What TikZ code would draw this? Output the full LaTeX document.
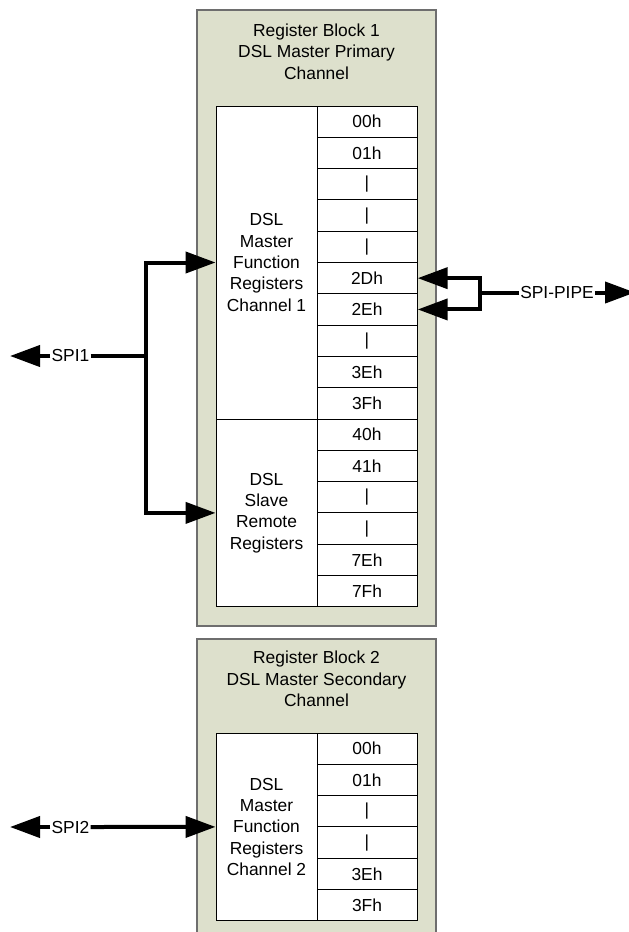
\documentclass[tikz,border=0pt]{standalone}
\usepackage{fontspec}
\setmainfont{Liberation Sans}
\usetikzlibrary{arrows.meta}
\definecolor{blockfill}{RGB}{221,224,204}
\definecolor{blockline}{RGB}{110,110,110}
\tikzset{
  block/.style={draw=blockline, fill=blockfill, line width=1.3pt},
  cell/.style={draw=black, line width=0.9pt, fill=white, minimum width=100.5pt, minimum height=31.3pt, inner sep=0pt, anchor=center},
  bigcell/.style={draw=black, line width=0.9pt, fill=white, minimum width=101pt, inner sep=0pt, align=center},
  hdr/.style={align=center, inner sep=0pt},
  lbl/.style={inner sep=1pt},
  conn/.style={line width=4pt, -{Triangle[length=30pt,width=21pt]}},
  wire/.style={line width=4pt}
}
\begin{document}
\begin{tikzpicture}[x=1pt,y=-1pt,font=\fontsize{17.4}{21.3}\selectfont]
\useasboundingbox (0,0) rectangle (629,932);
\begin{scope}
\clip (0,0) rectangle (629,932);
% blocks
\draw[block] (197,10) rectangle (436,626);
\draw[block] (197,639) rectangle (436,950);

% headers
\node[hdr] (h1) at (316.5,51.5) {Register Block 1\\DSL Master Primary\\Channel};
\node[hdr] (h2) at (316.5,679) {Register Block 2\\DSL Master Secondary\\Channel};

% table 1 right column
\foreach \t [count=\i from 0] in {00h,01h,|,|,|,2Dh,2Eh,|,3Eh,3Fh,40h,41h,|,|,7Eh,7Fh}{
  \node[cell] (a\i) at (367, 106+15.65+31.3*\i) {\t};
}
\node[bigcell, minimum height=313pt] (f1) at (266.5,262.5) {DSL\\Master\\Function\\Registers\\Channel 1};
\node[bigcell, minimum height=187.8pt] (s1) at (266.5,512.9) {DSL\\Slave\\Remote\\Registers};

% table 2
\foreach \t [count=\i from 0] in {00h,01h,|,|,3Eh,3Fh}{
  \node[cell] (b\i) at (367, 733+15.65+31.3*\i) {\t};
}
\node[bigcell, minimum height=187.8pt] (f2) at (266.5,826.9) {DSL\\Master\\Function\\Registers\\Channel 2};

% SPI1
\node[lbl] (spi1) at (70.5,356) {SPI1};
\coordinate (spi1tip) at (10,356);
\coordinate (j1) at (146,356);
\draw[conn] (spi1.west) -- (spi1tip);
\draw[wire] (spi1.east) -- (j1);
\draw[conn] (j1) -- (f1.west -| j1) -- (f1.west);
\draw[conn] (j1) -- (s1.west -| j1) -- (s1.west);

% SPI-PIPE
\node[lbl] (pipe) at (557,292.5) {SPI-PIPE};
\coordinate (j2) at (480,292.5);
\coordinate (pipetip) at (635,292.5);
\draw[conn] (pipe.east) -- (pipetip);
\draw[wire] (pipe.west) -- (j2);
\draw[conn] (j2) -- (a5.east -| j2) -- (a5.east);
\draw[conn] (j2) -- (a6.east -| j2) -- (a6.east);

% SPI2
\node[lbl] (spi2) at (70.5,827) {SPI2};
\coordinate (spi2tip) at (10,827);
\draw[conn] (spi2.west) -- (spi2tip);
\draw[conn] (spi2.east) -- (f2.west);
\end{scope}
\end{tikzpicture}
\end{document}
